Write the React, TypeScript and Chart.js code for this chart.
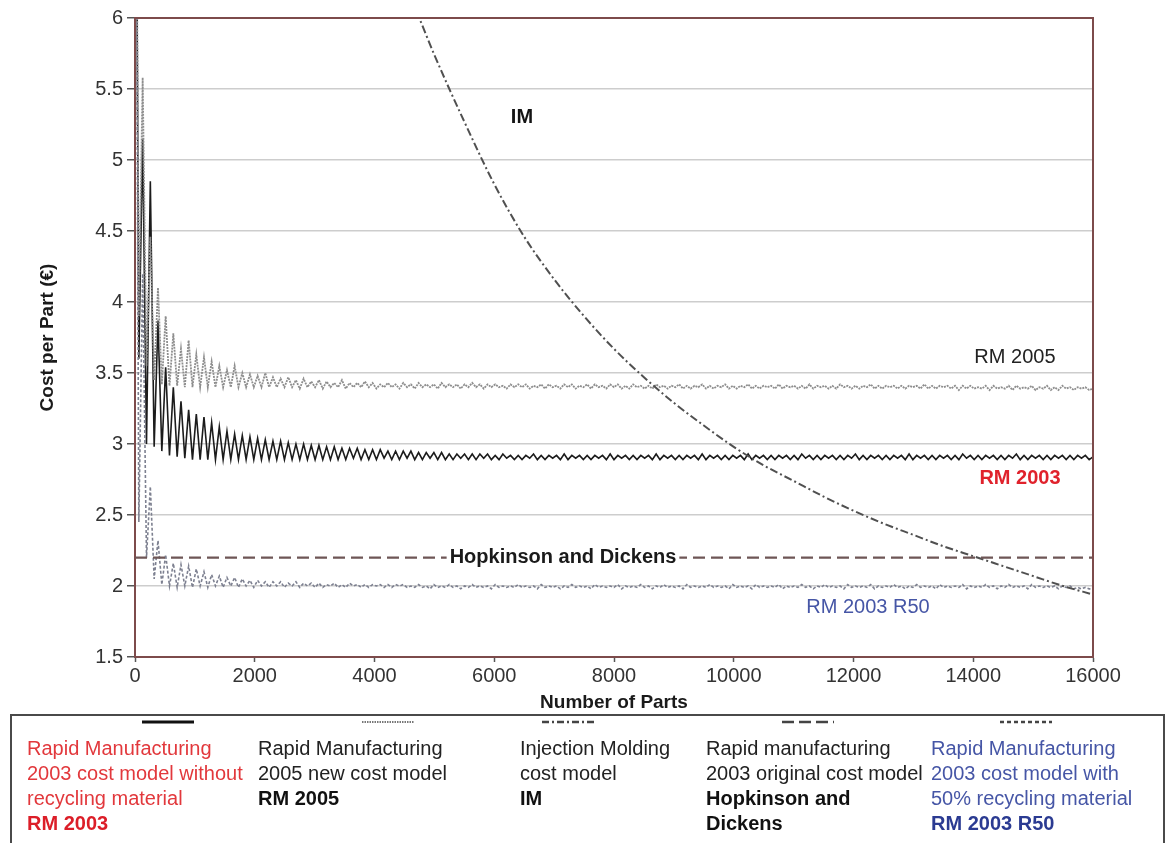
import React, { useEffect, useRef } from 'react';
import { Chart, registerables } from 'chart.js';

Chart.register(...registerables);

// Parts between consecutive readings of the oscillating cost models
const STEP = 64;

// Rapid Manufacturing 2003 (no recycling), cost per part every STEP parts
const rm2003 = [
  9.0, 3.6, 5.15, 3.0, 4.85, 2.98, 3.87, 2.95, 3.54, 2.92,
  3.40, 2.91, 3.30, 2.90, 3.24, 2.89, 3.21, 2.89, 3.19, 2.89,
  3.15, 2.89, 3.12, 2.89, 3.09, 2.89, 3.07, 2.89, 3.06, 2.89,
  3.05, 2.89, 3.04, 2.89, 3.03, 2.89, 3.02, 2.89, 3.02, 2.89,
  3.01, 2.89, 3.00, 2.89, 3.00, 2.89, 2.99, 2.89, 2.99, 2.89,
  2.98, 2.89, 2.98, 2.89, 2.97, 2.89, 2.97, 2.90, 2.97, 2.89,
  2.96, 2.89, 2.96, 2.89, 2.96, 2.90, 2.95, 2.89, 2.95, 2.89,
  2.95, 2.90, 2.95, 2.89, 2.94, 2.89, 2.94, 2.90, 2.94, 2.89,
  2.94, 2.89, 2.93, 2.89, 2.93, 2.90, 2.93, 2.89, 2.93, 2.89,
  2.93, 2.90, 2.93, 2.89, 2.92, 2.89, 2.93, 2.90, 2.92, 2.89,
  2.92, 2.89, 2.92, 2.90, 2.93, 2.89, 2.92, 2.89, 2.92, 2.90,
  2.92, 2.89, 2.93, 2.89, 2.92, 2.90, 2.92, 2.89, 2.92, 2.89,
  2.92, 2.90, 2.92, 2.89, 2.93, 2.89, 2.92, 2.90, 2.92, 2.89,
  2.92, 2.89, 2.92, 2.90, 2.92, 2.89, 2.93, 2.89, 2.92, 2.90,
  2.92, 2.89, 2.92, 2.89, 2.92, 2.90, 2.92, 2.89, 2.93, 2.89,
  2.92, 2.90, 2.92, 2.89, 2.92, 2.89, 2.92, 2.90, 2.92, 2.89,
  2.93, 2.89, 2.92, 2.90, 2.92, 2.89, 2.92, 2.89, 2.92, 2.90,
  2.92, 2.89, 2.92, 2.89, 2.93, 2.90, 2.92, 2.89, 2.92, 2.89,
  2.92, 2.90, 2.92, 2.89, 2.92, 2.89, 2.92, 2.90, 2.93, 2.89,
  2.92, 2.89, 2.92, 2.90, 2.92, 2.89, 2.92, 2.89, 2.92, 2.90,
  2.92, 2.89, 2.93, 2.89, 2.92, 2.90, 2.92, 2.89, 2.92, 2.89,
  2.92, 2.90, 2.92, 2.89, 2.92, 2.89, 2.93, 2.90, 2.92, 2.89,
  2.92, 2.89, 2.92, 2.90, 2.92, 2.89, 2.92, 2.89, 2.92, 2.90,
  2.93, 2.89, 2.92, 2.89, 2.92, 2.90, 2.92, 2.89, 2.92, 2.89,
  2.92, 2.90, 2.92, 2.89, 2.92, 2.89, 2.92, 2.90, 2.92, 2.89,
  2.91,
];

// Rapid Manufacturing 2005 new cost model
const rm2005 = [
  9.0, 3.9, 5.58, 3.55, 4.46, 3.45, 4.10, 3.42, 3.90, 3.41,
  3.78, 3.41, 3.67, 3.40, 3.73, 3.40, 3.63, 3.40, 3.61, 3.40,
  3.58, 3.40, 3.55, 3.40, 3.52, 3.40, 3.55, 3.40, 3.50, 3.40,
  3.49, 3.40, 3.48, 3.40, 3.50, 3.40, 3.47, 3.40, 3.46, 3.40,
  3.47, 3.40, 3.45, 3.39, 3.46, 3.40, 3.44, 3.40, 3.45, 3.39,
  3.44, 3.40, 3.43, 3.40, 3.45, 3.39, 3.43, 3.40, 3.43, 3.40,
  3.44, 3.40, 3.43, 3.39, 3.42, 3.40, 3.43, 3.40, 3.42, 3.39,
  3.43, 3.40, 3.42, 3.39, 3.43, 3.40, 3.42, 3.40, 3.42, 3.39,
  3.43, 3.40, 3.42, 3.40, 3.42, 3.39, 3.42, 3.40, 3.43, 3.40,
  3.42, 3.39, 3.42, 3.40, 3.42, 3.40, 3.41, 3.39, 3.42, 3.40,
  3.42, 3.40, 3.42, 3.39, 3.41, 3.40, 3.42, 3.39, 3.42, 3.40,
  3.41, 3.39, 3.42, 3.40, 3.42, 3.39, 3.41, 3.40, 3.42, 3.39,
  3.42, 3.40, 3.41, 3.39, 3.42, 3.40, 3.42, 3.39, 3.41, 3.39,
  3.42, 3.40, 3.41, 3.39, 3.41, 3.39, 3.42, 3.40, 3.41, 3.39,
  3.41, 3.40, 3.42, 3.39, 3.41, 3.39, 3.41, 3.40, 3.42, 3.39,
  3.41, 3.39, 3.41, 3.40, 3.42, 3.39, 3.41, 3.39, 3.41, 3.40,
  3.42, 3.39, 3.41, 3.39, 3.41, 3.40, 3.41, 3.39, 3.42, 3.39,
  3.41, 3.40, 3.41, 3.39, 3.41, 3.39, 3.42, 3.39, 3.41, 3.40,
  3.41, 3.39, 3.41, 3.39, 3.42, 3.40, 3.41, 3.39, 3.41, 3.39,
  3.41, 3.40, 3.42, 3.39, 3.41, 3.39, 3.41, 3.40, 3.41, 3.39,
  3.41, 3.39, 3.41, 3.40, 3.41, 3.39, 3.42, 3.39, 3.41, 3.39,
  3.41, 3.40, 3.41, 3.39, 3.41, 3.38, 3.41, 3.39, 3.41, 3.39,
  3.40, 3.39, 3.41, 3.38, 3.41, 3.39, 3.40, 3.39, 3.41, 3.38,
  3.41, 3.39, 3.40, 3.39, 3.41, 3.38, 3.40, 3.39, 3.41, 3.38,
  3.40, 3.38, 3.41, 3.39, 3.40, 3.38, 3.40, 3.39, 3.40, 3.38,
  3.39,
];

// Rapid Manufacturing 2003 with 50% recycled material
const rm2003R50 = [
  9.0, 2.45, 4.2, 2.2, 2.70, 2.05, 2.32, 2.01, 2.22, 2.0,
  2.16, 1.99, 2.15, 2.0, 2.14, 1.99, 2.12, 2.0, 2.10, 1.99,
  2.08, 2.0, 2.07, 1.99, 2.06, 2.0, 2.06, 1.99, 2.05, 2.0,
  2.04, 1.99, 2.04, 2.0, 2.03, 1.99, 2.03, 2.0, 2.03, 1.99,
  2.02, 2.0, 2.03, 1.99, 2.02, 2.0, 2.02, 1.99, 2.02, 1.99,
  2.01, 2.0, 2.02, 1.99, 2.01, 1.99, 2.02, 2.0, 2.01, 1.99,
  2.01, 1.99, 2.01, 2.0, 2.01, 1.99, 2.01, 1.99, 2.01, 2.0,
  2.01, 1.99, 2.0, 1.99, 2.01, 1.99, 2.0, 1.98, 2.01, 1.99,
  2.0, 1.99, 2.01, 1.99, 2.0, 1.98, 2.0, 1.99, 2.01, 1.99,
  2.0, 1.99, 2.0, 1.98, 2.01, 1.99, 2.0, 1.99, 2.0, 1.99,
  2.01, 1.99, 2.0, 1.99, 2.0, 1.98, 2.01, 1.99, 2.0, 1.99,
  2.0, 1.98, 2.0, 1.99, 2.01, 1.99, 2.0, 1.99, 2.0, 1.98,
  2.01, 1.99, 2.0, 1.99, 2.0, 1.99, 2.01, 1.98, 2.0, 1.99,
  2.0, 1.99, 2.01, 1.99, 2.0, 1.98, 2.0, 1.99, 2.01, 1.99,
  2.0, 1.99, 2.0, 1.98, 2.01, 1.99, 2.0, 1.99, 2.0, 1.99,
  2.01, 1.99, 2.0, 1.99, 2.0, 1.98, 2.01, 1.99, 2.0, 1.99,
  2.0, 1.98, 2.01, 1.99, 2.0, 1.99, 2.0, 1.99, 2.01, 1.98,
  2.0, 1.99, 2.0, 1.99, 2.01, 1.99, 2.0, 1.98, 2.0, 1.99,
  2.01, 1.99, 2.0, 1.99, 2.0, 1.98, 2.01, 1.99, 2.0, 1.99,
  2.0, 1.99, 2.01, 1.98, 2.0, 1.99, 2.0, 1.99, 2.01, 1.99,
  2.0, 1.98, 2.0, 1.99, 2.01, 1.99, 2.0, 1.99, 2.0, 1.98,
  2.01, 1.99, 2.0, 1.99, 2.0, 1.99, 2.01, 1.98, 2.0, 1.99,
  2.0, 1.99, 2.01, 1.99, 2.0, 1.98, 2.0, 1.99, 2.01, 1.99,
  2.0, 1.99, 2.0, 1.98, 2.01, 1.99, 2.0, 1.99, 2.0, 1.99,
  2.0, 1.98, 2.0, 1.99, 2.0, 1.98, 1.99, 1.98, 1.99, 1.98,
  1.98,
];

// Injection Molding cost model
const imParts = [4700, 5000, 5500, 6000, 6500, 7000, 7500, 8000, 8500, 9000, 9500, 10000,
  10500, 11000, 11500, 12000, 12500, 13000, 13500, 14000, 14500, 15000, 15500, 16000];
const imCost = [6.05, 5.74, 5.27, 4.83, 4.46, 4.16, 3.90, 3.67, 3.47, 3.29, 3.13, 2.98,
  2.85, 2.74, 2.63, 2.53, 2.44, 2.36, 2.28, 2.21, 2.14, 2.07, 2.00, 1.94];

// Hopkinson and Dickens original 2003 model (constant)
const hdParts = [0, 16000];
const hdCost = [2.2, 2.2];

// In-plot series labels (data coordinates)
const plotLabels = [
  { text: 'IM', x: 6463, y: 5.30, bold: true, color: '#141414', box: false },
  { text: 'RM 2005', x: 14696, y: 3.61, bold: false, color: '#222222', box: false },
  { text: 'RM 2003', x: 14780, y: 2.76, bold: true, color: '#e0222c', box: false },
  { text: 'Hopkinson and Dickens', x: 7148, y: 2.2, bold: true, color: '#1a1a1a', box: true },
  { text: 'RM 2003 R50', x: 12241, y: 1.85, bold: false, color: '#4656a6', box: false },
];

const FONT = "'Liberation Sans', Arial, sans-serif";

const toPoints = (vals: number[]) => vals.map((v, i) => ({ x: i * STEP, y: v }));
const zipPoints = (xs: number[], ys: number[]) => xs.map((x, i) => ({ x, y: ys[i] }));

const legendCols = [
  {
    left: 27, sample: 140, dash: '', stroke: '#111', sw: 3,
    lines: ['Rapid Manufacturing', '2003 cost model without', 'recycling material'],
    bold: ['RM 2003'], color: '#e2383c', boldColor: '#dc1e28',
  },
  {
    left: 258, sample: 360, dash: '1.5,1', stroke: '#777', sw: 2,
    lines: ['Rapid Manufacturing', '2005 new cost model'],
    bold: ['RM 2005'], color: '#222', boldColor: '#111',
  },
  {
    left: 520, sample: 540, dash: '7,3,2,3', stroke: '#444', sw: 2.5,
    lines: ['Injection Molding', 'cost model'],
    bold: ['IM'], color: '#222', boldColor: '#111',
  },
  {
    left: 706, sample: 780, dash: '12,5', stroke: '#444', sw: 2.5,
    lines: ['Rapid manufacturing', '2003 original cost model'],
    bold: ['Hopkinson and', 'Dickens'], color: '#222', boldColor: '#111',
  },
  {
    left: 931, sample: 998, dash: '4,3', stroke: '#444', sw: 2.5,
    lines: ['Rapid Manufacturing', '2003 cost model with', '50% recycling material'],
    bold: ['RM 2003 R50'], color: '#4656a6', boldColor: '#2b3b92',
  },
];

export default function App() {
  const canvasRef = useRef<HTMLCanvasElement | null>(null);

  useEffect(() => {
    const canvas = canvasRef.current;
    if (!canvas) return;

    const overlay = {
      id: 'overlay',
      afterDatasetsDraw(chart: any) {
        const { ctx, chartArea: a, scales } = chart;
        ctx.save();
        ctx.strokeStyle = '#7d4b4b';
        ctx.lineWidth = 2;
        ctx.beginPath();
        ctx.moveTo(a.left, a.top);
        ctx.lineTo(a.right, a.top);
        ctx.lineTo(a.right, a.bottom);
        ctx.stroke();
        ctx.textAlign = 'center';
        ctx.textBaseline = 'middle';
        for (const l of plotLabels) {
          const px = scales.x.getPixelForValue(l.x);
          const py = scales.y.getPixelForValue(l.y);
          ctx.font = `${l.bold ? 'bold ' : ''}20px ${FONT}`;
          if (l.box) {
            const w = ctx.measureText(l.text).width;
            ctx.fillStyle = '#ffffff';
            ctx.fillRect(px - w / 2 - 3, py - 12, w + 6, 24);
          }
          ctx.fillStyle = l.color;
          ctx.fillText(l.text, px, py);
        }
        ctx.restore();
      },
    };

    const chart = new Chart(canvas, {
      type: 'line',
      data: {
        datasets: [
          {
            label: 'Hopkinson and Dickens',
            data: zipPoints(hdParts, hdCost),
            borderColor: '#6e5656',
            borderWidth: 2.2,
            borderDash: [12, 6],
            pointRadius: 0,
          },
          {
            label: 'IM',
            data: zipPoints(imParts, imCost),
            borderColor: '#505050',
            borderWidth: 2,
            borderDash: [8, 3, 2, 3],
            pointRadius: 0,
            cubicInterpolationMode: 'monotone',
          },
          {
            label: 'RM 2003 R50',
            data: toPoints(rm2003R50),
            borderColor: '#7d8090',
            borderWidth: 1.6,
            borderDash: [3, 2],
            pointRadius: 0,
          },
          {
            label: 'RM 2005',
            data: toPoints(rm2005),
            borderColor: '#8e8e8e',
            borderWidth: 1.8,
            borderDash: [2, 1],
            pointRadius: 0,
          },
          {
            label: 'RM 2003',
            data: toPoints(rm2003),
            borderColor: '#1c1c1c',
            borderWidth: 1.6,
            pointRadius: 0,
          },
        ],
      },
      options: {
        responsive: false,
        animation: false,
        events: [],
        layout: { padding: { left: 0, right: 78, top: 18, bottom: 124 } },
        plugins: { legend: { display: false }, tooltip: { enabled: false } },
        scales: {
          x: {
            type: 'linear',
            min: 0,
            max: 16000,
            afterFit: (s: any) => { s.height = 62; },
            ticks: {
              stepSize: 2000,
              padding: 2,
              color: '#333',
              font: { family: FONT, size: 20 },
              maxRotation: 0,
              callback: (v: any) => String(v),
            },
            grid: {
              drawOnChartArea: false,
              drawTicks: true,
              tickLength: 5,
              tickColor: '#555',
              tickWidth: 1.5,
            },
            border: { display: true, color: '#7d4b4b', width: 2 },
            title: {
              display: true,
              text: 'Number of Parts',
              color: '#1a1a1a',
              font: { family: FONT, size: 19, weight: 'bold' },
              padding: { top: 0, bottom: 5 },
            },
          },
          y: {
            type: 'linear',
            min: 1.5,
            max: 6,
            afterFit: (s: any) => { s.width = 135; },
            ticks: {
              stepSize: 0.5,
              padding: 4,
              color: '#333',
              font: { family: FONT, size: 20 },
              callback: (v: any) => String(Math.round(Number(v) * 10) / 10),
            },
            grid: {
              drawOnChartArea: true,
              color: '#cdcdcd',
              lineWidth: 1.5,
              drawTicks: true,
              tickLength: 8,
              tickColor: '#555',
              tickWidth: 1.5,
            },
            border: { display: true, color: '#7d4b4b', width: 2 },
            title: {
              display: true,
              text: 'Cost per Part (€)',
              color: '#1a1a1a',
              font: { family: FONT, size: 19, weight: 'bold' },
              padding: { top: 36, bottom: 0 },
            },
          },
        },
      } as any,
      plugins: [overlay],
    });

    return () => chart.destroy();
  }, []);

  return (
    <div style={{ position: 'absolute', left: 0, top: 0, width: 1171, height: 843, overflow: 'hidden', background: '#fff' }}>
      <canvas ref={canvasRef} width={1171} height={843} style={{ display: 'block', position: 'absolute', left: 0, top: 0 }} />
      <div
        style={{
          position: 'absolute', left: 10, top: 714, width: 1155, height: 150,
          borderTop: '2px solid #4a4a4a', borderLeft: '2px solid #4a4a4a', borderRight: '2px solid #4a4a4a',
          boxSizing: 'border-box',
        }}
      />
      {legendCols.map((c, ci) => (
        <React.Fragment key={ci}>
          <svg width={56} height={8} style={{ position: 'absolute', left: c.sample, top: 718 }}>
            <line x1={2} y1={4} x2={54} y2={4} stroke={c.stroke} strokeWidth={c.sw}
              strokeDasharray={c.dash || undefined} />
          </svg>
          <div style={{ position: 'absolute', left: c.left, top: 736, fontFamily: FONT, fontSize: 20, lineHeight: '25px', whiteSpace: 'nowrap' }}>
            {c.lines.map((t, i) => (<div key={'l' + i} style={{ color: c.color }}>{t}</div>))}
            {c.bold.map((t, i) => (<div key={'b' + i} style={{ color: c.boldColor, fontWeight: 'bold' }}>{t}</div>))}
          </div>
        </React.Fragment>
      ))}
    </div>
  );
}
